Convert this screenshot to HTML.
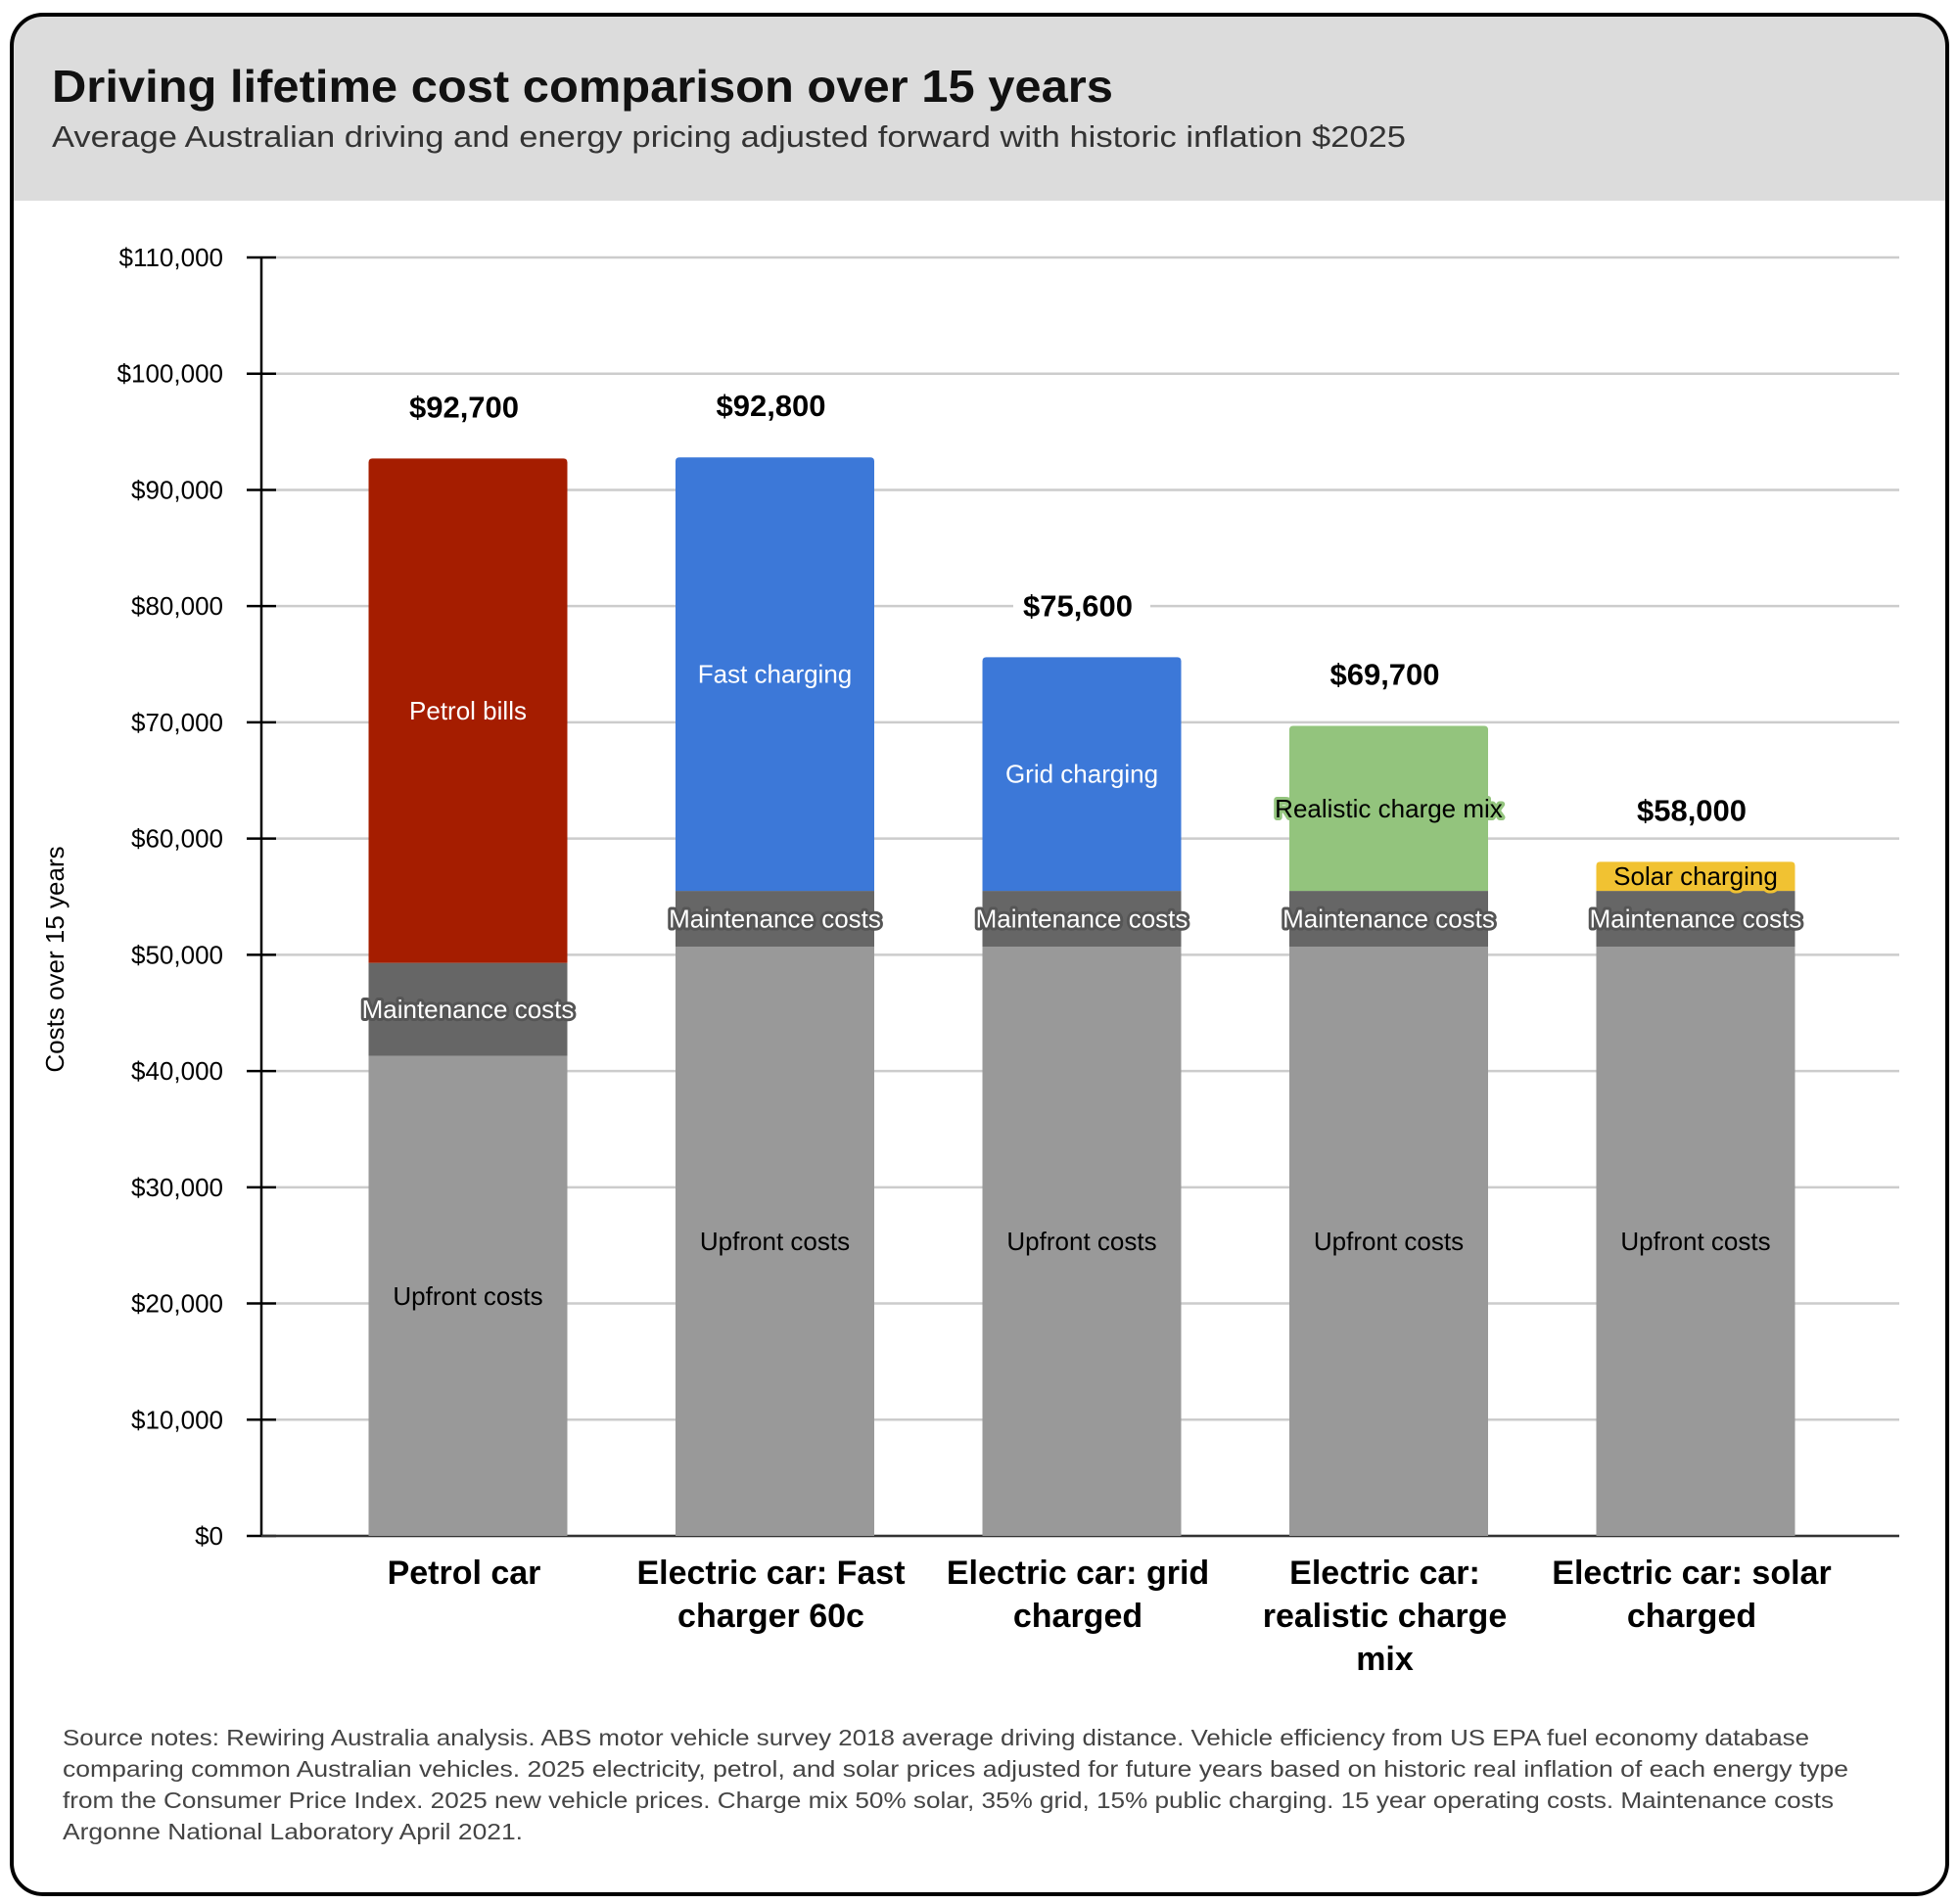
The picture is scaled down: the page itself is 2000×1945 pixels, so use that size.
<!DOCTYPE html>
<html><head><meta charset="utf-8"><style>
html,body{margin:0;padding:0;background:#fff;}
svg{display:block;font-family:"Liberation Sans",sans-serif;}
</style></head><body>
<svg id="chart" width="2000" height="1945" viewBox="0 0 2000 1945" xmlns="http://www.w3.org/2000/svg">
<defs><clipPath id="cardclip"><rect x="12" y="15" width="1977" height="1920" rx="32"/></clipPath></defs>
<rect x="12" y="15" width="1977" height="1920" rx="32" fill="#fff"/>
<rect x="0" y="0" width="2000" height="205" fill="#dcdcdc" clip-path="url(#cardclip)"/>
<rect x="12" y="15" width="1977" height="1920" rx="32" fill="none" stroke="#000" stroke-width="4"/>
<text x="53" y="104" font-size="46" font-weight="bold" fill="#111" textLength="1084" lengthAdjust="spacingAndGlyphs">Driving lifetime cost comparison over 15 years</text>
<text x="53" y="150" font-size="31" fill="#333" textLength="1383" lengthAdjust="spacingAndGlyphs">Average Australian driving and energy pricing adjusted forward with historic inflation $2025</text>
<g id="grid"></g>
<g id="bars"></g>
<g id="labels"></g>
<text transform="translate(65,980) rotate(-90)" text-anchor="middle" font-size="26" fill="#000">Costs over 15 years</text>
<g font-size="23" fill="#444">
<text x="64" y="1783" textLength="1784" lengthAdjust="spacingAndGlyphs">Source notes: Rewiring Australia analysis. ABS motor vehicle survey 2018 average driving distance. Vehicle efficiency from US EPA fuel economy database</text>
<text x="64" y="1815" textLength="1824" lengthAdjust="spacingAndGlyphs">comparing common Australian vehicles. 2025 electricity, petrol, and solar prices adjusted for future years based on historic real inflation of each energy type</text>
<text x="64" y="1847" textLength="1809" lengthAdjust="spacingAndGlyphs">from the Consumer Price Index. 2025 new vehicle prices. Charge mix 50% solar, 35% grid, 15% public charging. 15 year operating costs. Maintenance costs</text>
<text x="64" y="1879" textLength="470" lengthAdjust="spacingAndGlyphs">Argonne National Laboratory April 2021.</text>
</g>
</svg>
<script>
const categories = [["Petrol car"],["Electric car: Fast","charger 60c"],["Electric car: grid","charged"],["Electric car:","realistic charge","mix"],["Electric car: solar","charged"]];
const upfront = [41300, 50700, 50700, 50700, 50700];
const maintenance = [8000, 4800, 4800, 4800, 4800];
const energy = [43400, 37300, 20100, 14200, 2500];
const totalLabels = ["$92,700","$92,800","$75,600","$69,700","$58,000"];
const energyNames = ["Petrol bills","Fast charging","Grid charging","Realistic charge mix","Solar charging"];
const yTicks = [0,10000,20000,30000,40000,50000,60000,70000,80000,90000,100000,110000];
const yTickLabels = ["$0","$10,000","$20,000","$30,000","$40,000","$50,000","$60,000","$70,000","$80,000","$90,000","$100,000","$110,000"];

const NS="http://www.w3.org/2000/svg";
const y0=1569, yTop=263, vMax=110000;
function y(v){return y0-(v/vMax)*(y0-yTop);}
function xc(i){return 478+i*313.5;}
const bw=203;
function mk(tag,attrs,parent,txt){const e=document.createElementNS(NS,tag);for(const k in attrs)e.setAttribute(k,attrs[k]);if(txt!==undefined)e.textContent=txt;parent.appendChild(e);return e;}
const grid=document.getElementById('grid'),bars=document.getElementById('bars'),labels=document.getElementById('labels');
yTicks.forEach((t,i)=>{
  const g=mk('line',{x1:282,x2:1940,y1:y(t),y2:y(t),stroke:'#cccccc','stroke-width':2.5},grid);
  
  
  const tk=mk('line',{x1:252,x2:282,y1:y(t),y2:y(t),stroke:'#000','stroke-width':2.5},grid);
  
  
  const tl=mk('text',{x:228,y:y(t)+9,'text-anchor':'end','font-size':26,fill:'#000'},grid,yTickLabels[i]);
  
  
});
const ax=mk('line',{x1:267,x2:267,y1:263,y2:y0,stroke:'#000','stroke-width':2.5},grid);


const xax=mk('line',{x1:267,x2:1940,y1:y0,y2:y0,stroke:'#333','stroke-width':2.5},grid);


const energyColors=['#a51d00','#3c78d8','#3c78d8','#93c47d','#f1c232'];
function halo(parent,x,yy,txt,fill,stroke,name){
  const t=mk('text',{x:x,y:yy,'text-anchor':'middle','font-size':26,fill:fill,stroke:stroke,'stroke-width':stroke==='none'?0:6,'paint-order':'stroke','stroke-linejoin':'round'},parent,txt);
  
  
}
categories.forEach((c,i)=>{
  const x=xc(i)-bw/2, cx=xc(i);
  const a=upfront[i], b=a+maintenance[i], tot=b+energy[i];
  const r1=mk('rect',{x:x,y:y(a),width:bw,height:y0-y(a),fill:'#999999'},bars);
  
  
  const r2=mk('rect',{x:x,y:y(b),width:bw,height:y(a)-y(b),fill:'#666666'},bars);
  
  
  const r3=mk('path',{d:`M${x},${y(b)} V${y(tot)+4} Q${x},${y(tot)} ${x+4},${y(tot)} H${x+bw-4} Q${x+bw},${y(tot)} ${x+bw},${y(tot)+4} V${y(b)} Z`,fill:energyColors[i]},bars);
  
  
  halo(labels,cx,(y0+y(a))/2+9,'Upfront costs','#000','none','upfront-label');
  halo(labels,cx,(y(a)+y(b))/2+9,'Maintenance costs','#fff','#555555','maintenance-label');
  const ef=(i===3||i===4)?'#000':'#fff', es=i===3?'#93c47d':(i===4?'#f1c232':'none');
  halo(labels,cx,(y(b)+y(tot))/2+9,energyNames[i],ef,es,'energy-label');
  const tw=totalLabels[i].length*18+14;
  const bg=mk('rect',{x:cx-tw/2,y:y(tot)-80,width:tw,height:46,fill:'#fff'},labels);
  
  
  const tl=mk('text',{x:cx-4,y:y(tot)-42,'text-anchor':'middle','font-size':31,'font-weight':'bold',fill:'#000'},labels,totalLabels[i]);
  
  
  c.forEach((ln,j)=>{
    const xl=mk('text',{x:cx-4,y:1618+j*44,'text-anchor':'middle','font-size':34,'font-weight':'bold',fill:'#000'},labels,ln);
    
    
  });
});
</script>
</body></html>
